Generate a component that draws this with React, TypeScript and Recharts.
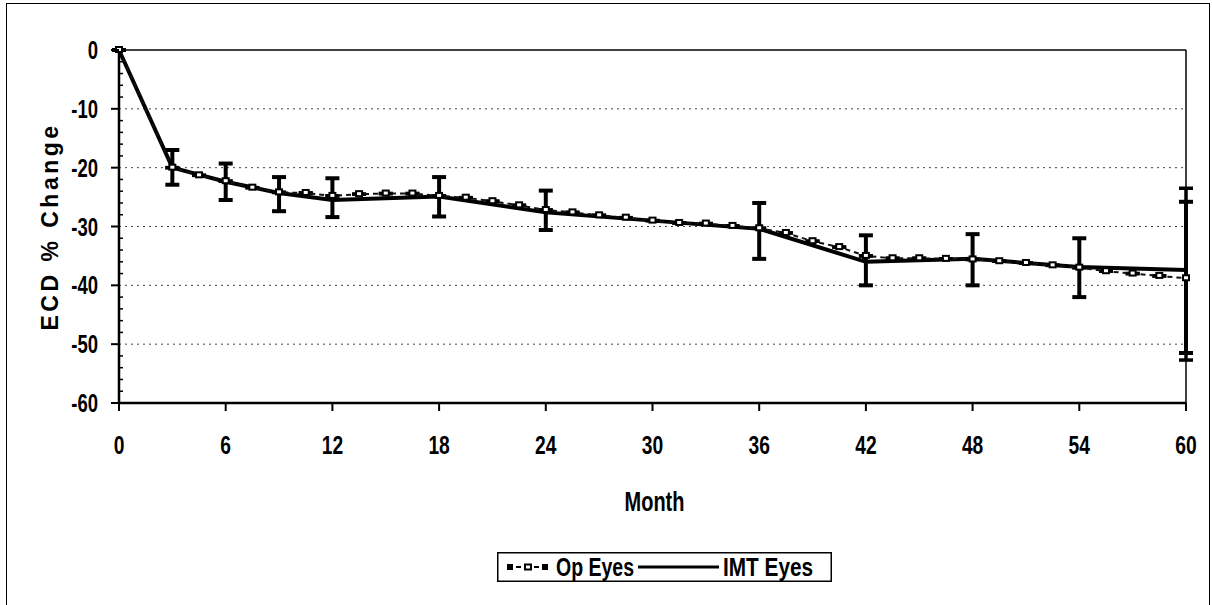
import React from "react";
import {
  LineChart,
  Line,
  XAxis,
  YAxis,
  ErrorBar,
  ReferenceLine,
  Legend,
} from "recharts";

// IMT Eyes: mean % change with error bar bounds
const imtMonths = [0, 3, 6, 9, 12, 18, 24, 36, 42, 48, 54, 60];
const imtValues = [0, -20, -22.4, -24.3, -25.5, -24.9, -27.6, -30.4, -36, -35.5, -36.9, -37.4];
const imtUpper = [0, -17, -19.3, -21.6, -21.8, -21.6, -23.9, -26, -31.5, -31.3, -32, -25.8];
const imtLower = [0, -22.9, -25.5, -27.4, -28.4, -28.3, -30.6, -35.5, -40, -40, -42, -51.5];

// Op Eyes: denser series, error bar only at month 60
const opMonths = [
  0, 3, 4.5, 6, 7.5, 9, 10.5, 12, 13.5, 15, 16.5, 18, 19.5, 21, 22.5, 24, 25.5, 27, 28.5, 30,
  31.5, 33, 34.5, 36, 37.5, 39, 40.5, 42, 43.5, 45, 46.5, 48, 49.5, 51, 52.5, 54, 55.5, 57, 58.5,
  60,
];
const opValues = [
  0, -20, -21.3, -22.3, -23.4, -24.2, -24.3, -24.8, -24.5, -24.4, -24.4, -24.8, -25.1, -25.7,
  -26.4, -27.2, -27.6, -28.1, -28.5, -29, -29.4, -29.5, -29.9, -30.3, -31.1, -32.5, -33.5, -35,
  -35.4, -35.4, -35.5, -35.6, -35.9, -36.2, -36.6, -37, -37.6, -38, -38.4, -38.8,
];
const opErrMonth = 60;
const opUpper60 = -23.5;
const opLower60 = -52.7;

const xTicks = [0, 6, 12, 18, 24, 30, 36, 42, 48, 54, 60];
const yTicks = [
  0, -2, -4, -6, -8, -10, -12, -14, -16, -18, -20, -22, -24, -26, -28, -30, -32, -34, -36, -38,
  -40, -42, -44, -46, -48, -50, -52, -54, -56, -58, -60,
];
const gridValues = [-10, -20, -30, -40, -50];

const imtData = imtMonths.map((m, i) => ({
  month: m,
  imt: imtValues[i],
  err: [imtValues[i] - imtLower[i], imtUpper[i] - imtValues[i]],
}));

const opData = opMonths.map((m, i) => ({
  month: m,
  op: opValues[i],
  err:
    m === opErrMonth
      ? [opValues[i] - opLower60, opUpper60 - opValues[i]]
      : [0, 0],
}));

const FONT = "'Liberation Sans', Arial, sans-serif";
const NARROW = 0.74;

function NarrowText({ x, y, anchor, size, children, scale }: any) {
  return (
    <text
      transform={`translate(${x},${y}) scale(${scale || NARROW},1)`}
      x={0}
      y={0}
      textAnchor={anchor}
      fontFamily={FONT}
      fontWeight="bold"
      fontSize={size}
      fill="#000"
    >
      {children}
    </text>
  );
}

function YTick(props: any) {
  const { x, y, payload } = props;
  const v = payload.value;
  const ax = x + 21;
  const major = v % 10 === 0;
  return (
    <g>
      {major ? (
        <line x1={ax - 8} x2={ax} y1={y} y2={y} stroke="#000" strokeWidth={2} />
      ) : (
        <line x1={ax} x2={ax + 4} y1={y} y2={y} stroke="#000" strokeWidth={1.5} />
      )}
      {major && (
        <NarrowText x={x} y={y + 9} anchor="end" size={25}>
          {v}
        </NarrowText>
      )}
    </g>
  );
}

function XTick(props: any) {
  const { x, y, payload } = props;
  return (
    <NarrowText x={x} y={y + 18} anchor="middle" size={26}>
      {payload.value}
    </NarrowText>
  );
}

function SquareDot(props: any) {
  const { cx, cy, index } = props;
  if (cx == null || cy == null) return <g key={index} />;
  return (
    <rect
      key={index}
      x={cx - 3}
      y={cy - 3}
      width={6}
      height={5}
      fill="#fff"
      stroke="#000"
      strokeWidth={2}
    />
  );
}

function LegendBox() {
  return (
    <svg width={335} height={30} style={{ display: "block" }}>
      <rect x={0.75} y={0.75} width={333.5} height={28.5} fill="#fff" stroke="#000" strokeWidth={1.5} />
      <line x1={10} x2={51} y1={15} y2={15} stroke="#000" strokeWidth={2} strokeDasharray="5 4" />
      <rect x={10} y={12} width={6} height={6} fill="#000" />
      <rect x={28} y={12.5} width={6} height={5} fill="#fff" stroke="#000" strokeWidth={2} />
      <rect x={45} y={12} width={6} height={6} fill="#000" />
      <NarrowText x={59} y={24} anchor="start" size={26} scale={0.75}>
        Op Eyes
      </NarrowText>
      <line x1={141} x2={222} y1={15} y2={15} stroke="#000" strokeWidth={3} />
      <NarrowText x={226} y={24} anchor="start" size={26} scale={0.8}>
        IMT Eyes
      </NarrowText>
    </svg>
  );
}

function YTitle(props: any) {
  const vb = props.viewBox || { x: 0, y: 50, width: 119, height: 353 };
  const cx = vb.x + 58;
  const cy = vb.y + vb.height / 2;
  return (
    <text
      x={cx}
      y={cy}
      transform={`rotate(-90, ${cx}, ${cy})`}
      textAnchor="middle"
      fontFamily={FONT}
      fontWeight="bold"
      fontSize={23}
      letterSpacing={3.5}
      fill="#000"
    >
      ECD % Change
    </text>
  );
}

function XTitle(props: any) {
  const vb = props.viewBox || { x: 119, y: 403, width: 1067, height: 202 };
  return (
    <NarrowText x={vb.x + vb.width / 2 + 2} y={vb.y + 108} anchor="middle" size={27}>
      Month
    </NarrowText>
  );
}

export default function App() {
  return (
    <div
      style={{
        position: "absolute",
        left: 0,
        top: 0,
        width: 1212,
        height: 605,
        background: "#fff",
        overflow: "hidden",
      }}
    >
      <div
        style={{
          position: "absolute",
          left: 6,
          top: 3,
          width: 1204,
          height: 640,
          border: "1.5px solid #000",
          boxSizing: "border-box",
        }}
      />
      <div style={{ position: "absolute", left: 0, top: 0 }}>
        <LineChart
          width={1212}
          height={605}
          margin={{ top: 50, right: 26, bottom: 0, left: 0 }}
        >
          <XAxis
            dataKey="month"
            type="number"
            domain={[0, 60]}
            ticks={xTicks}
            allowDuplicatedCategory={false}
            height={202}
            axisLine={{ stroke: "#000", strokeWidth: 2.5 }}
            tickLine={{ stroke: "#000", strokeWidth: 2 }}
            tickSize={8}
            tickMargin={25}
            tick={<XTick />}
            label={{ content: (p: any) => <XTitle {...p} /> }}
          />
          <YAxis
            type="number"
            domain={[-60, 0]}
            ticks={yTicks}
            interval={0}
            width={119}
            axisLine={{ stroke: "#000", strokeWidth: 2.5 }}
            tickLine={false}
            tickSize={8}
            tickMargin={13}
            tick={<YTick />}
            label={{ content: (p: any) => <YTitle {...p} /> }}
          />
          {gridValues.map((g) => (
            <ReferenceLine
              key={g}
              y={g}
              stroke="#444"
              strokeWidth={1}
              strokeDasharray="2 4"
            />
          ))}
          <ReferenceLine y={0} stroke="#000" strokeWidth={1.5} />
          <ReferenceLine x={60} stroke="#000" strokeWidth={1.5} />
          <Line
            data={imtData}
            dataKey="imt"
            name="IMT Eyes"
            stroke="#000"
            strokeWidth={4}
            dot={false}
            isAnimationActive={false}
          >
            <ErrorBar dataKey="err" width={7} stroke="#000" strokeWidth={4} direction="y" />
          </Line>
          <Line
            data={opData}
            dataKey="op"
            name="Op Eyes"
            stroke="#111"
            strokeWidth={2}
            strokeDasharray="5 4"
            dot={<SquareDot />}
            isAnimationActive={false}
          >
            <ErrorBar dataKey="err" width={7} stroke="#000" strokeWidth={3.5} direction="y" />
          </Line>
          <Legend
            layout="horizontal"
            verticalAlign="middle"
            align="center"
            wrapperStyle={{ left: 497, top: 552, width: 335, height: 30 }}
            content={() => <LegendBox />}
          />
        </LineChart>
      </div>
    </div>
  );
}
